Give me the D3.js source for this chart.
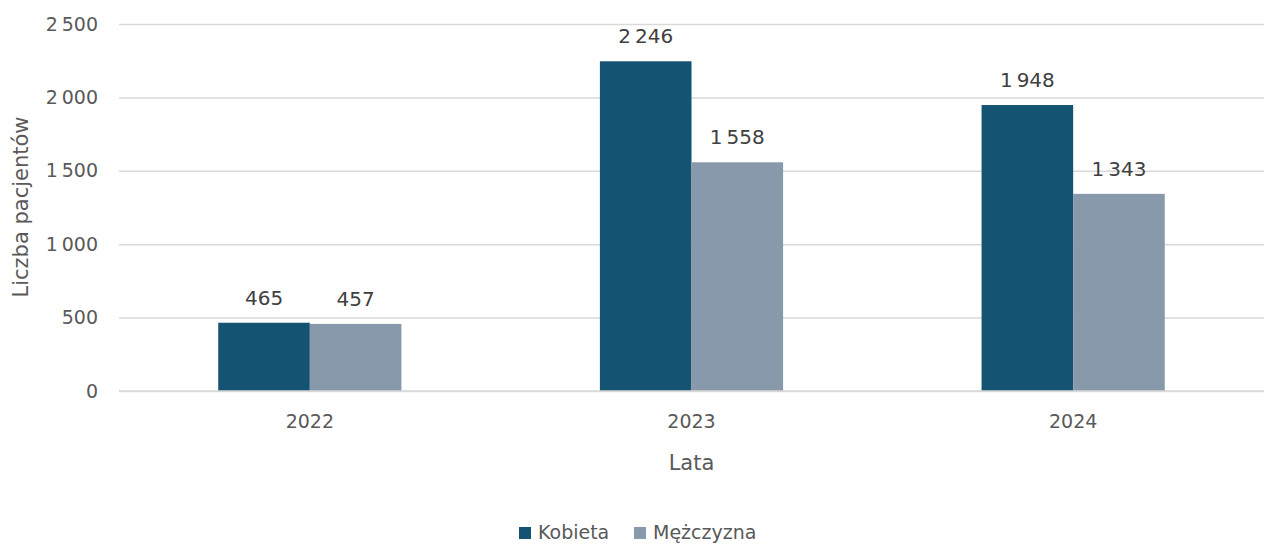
<!DOCTYPE html>
<html>
<head>
<meta charset="utf-8">
<script src="https://cdn.jsdelivr.net/npm/d3@7"></script>
<style>
  html, body { margin: 0; padding: 0; background: #fff; }
  svg { display: block; font-family: "DejaVu Sans", "Liberation Sans", Arial, sans-serif; }
</style>
</head>
<body>
<svg id="chart" width="1264" height="545"></svg>
<script>
// Patients per year, split by sex
const years = ["2022", "2023", "2024"];
const seriesNames = ["Kobieta", "Mężczyzna"];
const kobieta = [465, 2246, 1948];
const mezczyzna = [457, 1558, 1343];
const yTicks = [0, 500, 1000, 1500, 2000, 2500];
const colors = ["#145372", "#8799AB"];

const seriesValues = [kobieta, mezczyzna];
const rows = years.map((y, i) => ({ year: y, values: seriesValues.map(s => s[i]) }));

const svg = d3.select("#chart");
const W = 1264, H = 545;
const margin = { left: 119, right: 0, top: 24, bottom: 154 };
const plotBottom = H - margin.bottom; // 391

const loc = d3.formatLocale({ decimal: ",", thousands: "\u2009", grouping: [3], currency: ["", " zł"] });
const fmt = loc.format(",d");

const x = d3.scaleBand().domain(years).range([margin.left, W - margin.right]).paddingInner(0).paddingOuter(0);
const groupW = x.bandwidth() * 0.48;
const xs = d3.scaleBand().domain(seriesNames).range([0, groupW]).padding(0);
const y = d3.scaleLinear().domain([0, 2500]).range([plotBottom, margin.top]);

// gridlines and value axis
const yAxis = d3.axisLeft(y).tickValues(yTicks).tickSize(-(W - margin.left)).tickFormat(fmt).tickPadding(21);
const gy = svg.append("g").attr("transform", `translate(${margin.left},0)`).call(yAxis)
  .attr("font-family", null).attr("font-size", null);
gy.select(".domain").remove();
gy.selectAll(".tick line").attr("stroke", "#d9d9d9").attr("stroke-width", 1.5);
gy.selectAll(".tick text").attr("fill", "#595959").style("font-size", "19px");

// bars
const groups = svg.append("g").selectAll("g").data(rows).join("g")
  .attr("transform", d => `translate(${x(d.year) + (x.bandwidth() - groupW) / 2},0)`);

groups.selectAll("rect").data(d => d.values.map((v, i) => ({ v, s: seriesNames[i], i })))
  .join("rect")
  .attr("x", d => xs(d.s))
  .attr("y", d => y(d.v))
  .attr("width", xs.bandwidth())
  .attr("height", d => y(0) - y(d.v))
  .attr("fill", d => colors[d.i]);

// value labels above bars
groups.selectAll("text").data(d => d.values.map((v, i) => ({ v, s: seriesNames[i], i })))
  .join("text")
  .attr("x", d => xs(d.s) + xs.bandwidth() / 2)
  .attr("y", d => y(d.v) - 18)
  .attr("text-anchor", "middle")
  .attr("fill", "#404040")
  .style("font-size", "20px")
  .text(d => fmt(d.v));

// category axis
svg.append("line").attr("x1", margin.left).attr("x2", W).attr("y1", y(0)).attr("y2", y(0))
  .attr("stroke", "#d9d9d9").attr("stroke-width", 1.5);
const xAxis = d3.axisBottom(x).tickSize(0).tickPadding(24);
const gx = svg.append("g").attr("transform", `translate(0,${y(0)})`).call(xAxis)
  .attr("font-family", null).attr("font-size", null);
gx.select(".domain").remove();
gx.selectAll(".tick text").attr("fill", "#595959").style("font-size", "19px");

// axis titles
svg.append("text").attr("x", x("2023") + x.bandwidth() / 2).attr("y", 470)
  .attr("text-anchor", "middle").attr("fill", "#595959").style("font-size", "21px").text("Lata");
svg.append("text").attr("transform", `translate(28,207) rotate(-90)`)
  .attr("text-anchor", "middle").attr("fill", "#595959").style("font-size", "21px").text("Liczba pacjentów");

// legend
const legend = svg.append("g").attr("transform", "translate(519,527)");
const legendX = [0, 115];
seriesNames.forEach((s, i) => {
  const g = legend.append("g").attr("transform", `translate(${legendX[i]},0)`);
  g.append("rect").attr("width", 12).attr("height", 12).attr("fill", colors[i]);
  g.append("text").attr("x", 19).attr("y", 12).attr("fill", "#595959").style("font-size", "19px").text(s);
});
</script>
</body>
</html>
